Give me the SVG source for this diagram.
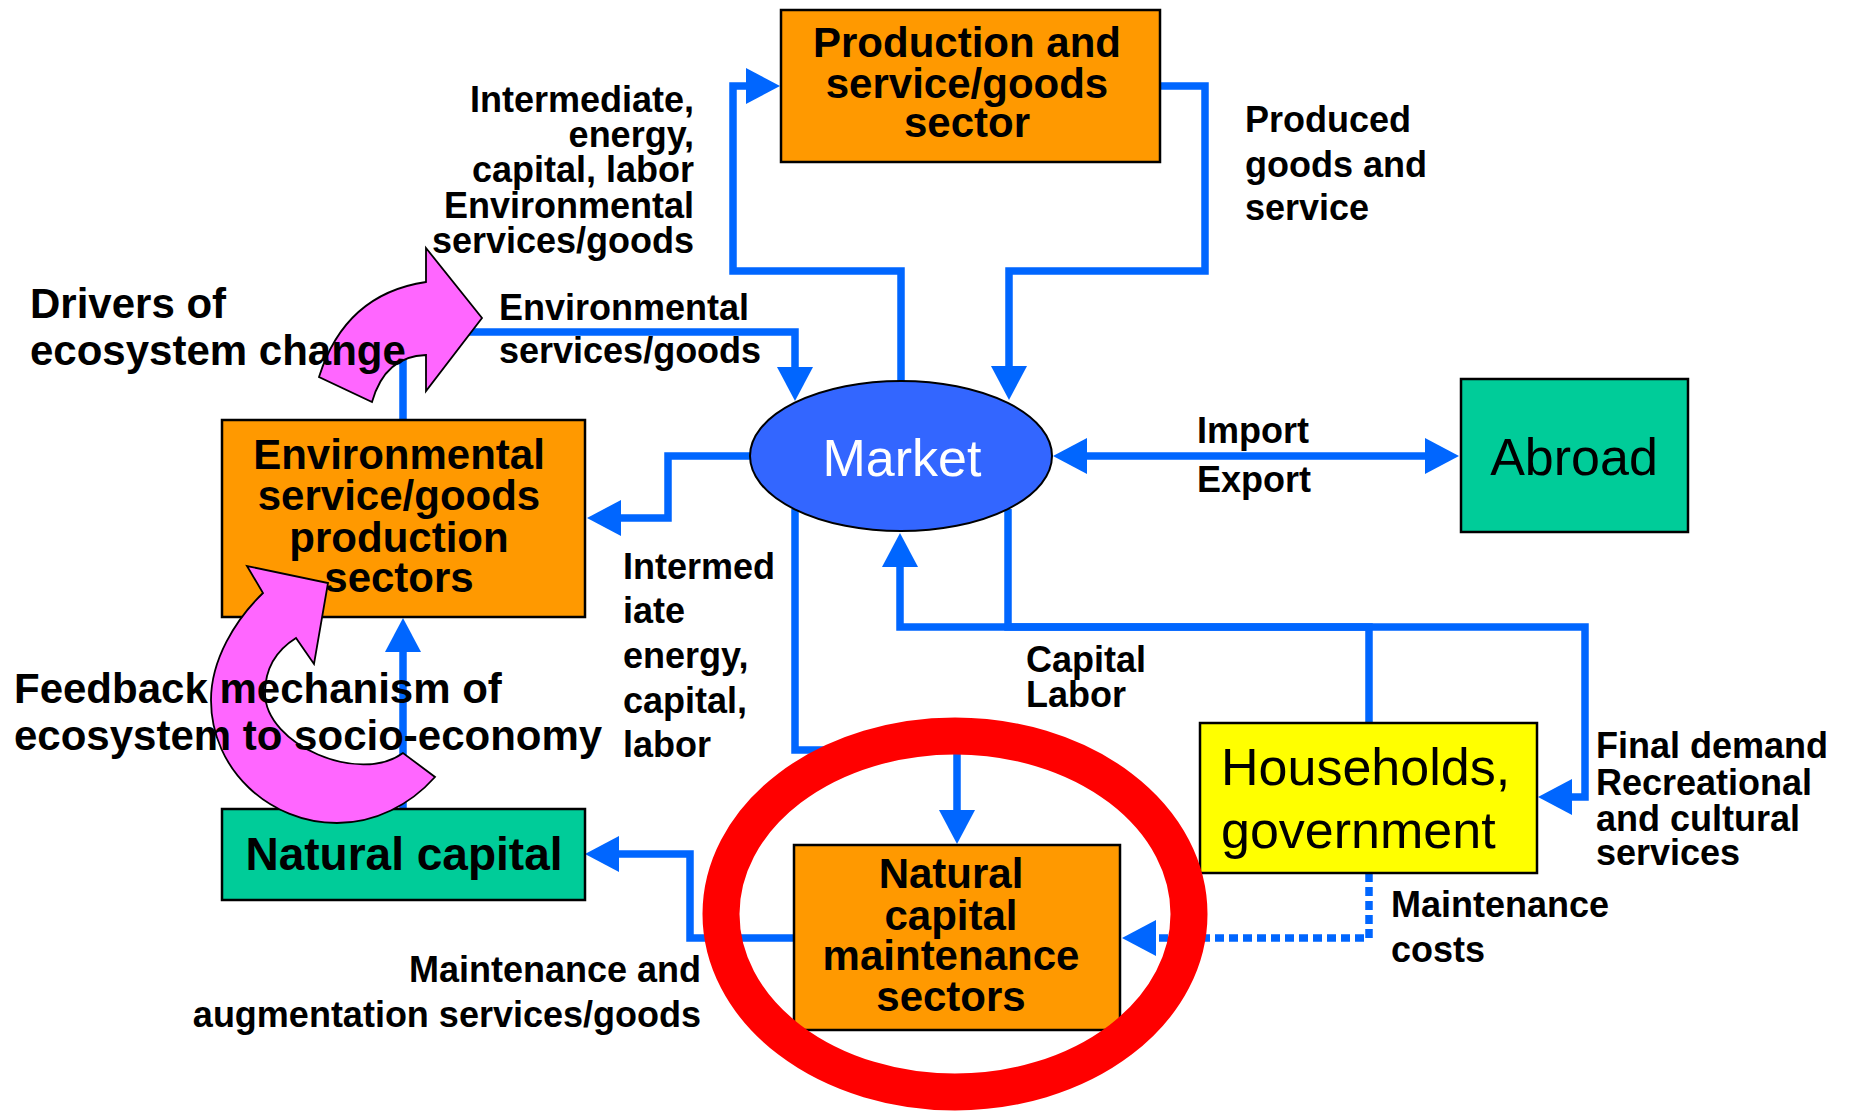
<svg xmlns="http://www.w3.org/2000/svg" width="1850" height="1112" viewBox="0 0 1850 1112">
<defs>
<style>
.t{font-family:"Liberation Sans",Arial,sans-serif;font-weight:bold;font-size:36px;fill:#000}
.tb{font-family:"Liberation Sans",Arial,sans-serif;font-weight:bold;font-size:42px;fill:#000;text-anchor:middle}
.tr{font-family:"Liberation Sans",Arial,sans-serif;font-weight:normal;font-size:52px;fill:#000}
.box{stroke:#000;stroke-width:2.5}
.c{fill:none;stroke:#0066FF;stroke-width:7.5;stroke-linejoin:miter}
.pink{fill:#FF66FF;stroke:#000;stroke-width:1.8;stroke-linejoin:miter}
</style>
<marker id="ah" viewBox="0 0 34 36" refX="0" refY="18" markerWidth="34" markerHeight="36" markerUnits="userSpaceOnUse" orient="auto-start-reverse">
<path d="M0,0 L34,18 L0,36 Z" fill="#0066FF"/>
</marker>
</defs>
<rect width="1850" height="1112" fill="#fff"/>

<g id="connectors">
<path class="c" d="M901,381 V271 H733 V86 H746" marker-end="url(#ah)"/>
<path class="c" d="M1160,86 H1205 V271 H1009 V366" marker-end="url(#ah)"/>
<path class="c" d="M403,420 V332 H795 V367" marker-end="url(#ah)"/>
<path class="c" d="M750,456 H668 V518 H621" marker-end="url(#ah)"/>
<path class="c" d="M1087,456 H1425" marker-start="url(#ah)" marker-end="url(#ah)"/>
<path class="c" d="M795,509 V750 H957 V810" marker-end="url(#ah)"/>
<path class="c" d="M1369,723 V627 H900 V567" marker-end="url(#ah)"/>
<path class="c" d="M1008,509 V627 H1585 V797 H1572" marker-end="url(#ah)"/>
<path class="c" d="M1369,873 V938 H1156" stroke-dasharray="9 5" stroke-width="7.5" marker-end="url(#ah)"/>
<path class="c" d="M794,938 H690 V854 H619" marker-end="url(#ah)"/>
<path class="c" d="M403,808 V652" marker-end="url(#ah)"/>
</g>

<g id="production">
<rect class="box" x="781" y="10" width="379" height="152" fill="#FF9900"/>
<text class="tb" x="967" y="57">Production and</text>
<text class="tb" x="967" y="98">service/goods</text>
<text class="tb" x="967" y="137">sector</text>
</g>

<g id="env-sectors">
<rect class="box" x="222" y="420" width="363" height="197" fill="#FF9900"/>
<text class="tb" x="399" y="469">Environmental</text>
<text class="tb" x="399" y="510">service/goods</text>
<text class="tb" x="399" y="552">production</text>
<text class="tb" x="399" y="592">sectors</text>
</g>

<g id="natural-capital">
<rect class="box" x="222" y="809" width="363" height="91" fill="#00CC99"/>
<text class="tb" x="404" y="870" style="font-size:46px">Natural capital</text>
</g>

<g id="market">
<ellipse cx="901" cy="456" rx="151" ry="75" fill="#3366FF" stroke="#000" stroke-width="2"/>
<text class="tr" x="902" y="476" text-anchor="middle" style="fill:#fff">Market</text>
</g>

<g id="abroad">
<rect class="box" x="1461" y="379" width="227" height="153" fill="#00CC99"/>
<text class="tr" x="1574" y="475" text-anchor="middle">Abroad</text>
</g>

<g id="households">
<rect class="box" x="1200" y="723" width="337" height="150" fill="#FFFF00"/>
<text class="tr" x="1221" y="785">Households,</text>
<text class="tr" x="1221" y="848">government</text>
</g>

<g id="natcap-maintenance">
<rect class="box" x="794" y="845" width="326" height="185" fill="#FF9900"/>
<text class="tb" x="951" y="888">Natural</text>
<text class="tb" x="951" y="930">capital</text>
<text class="tb" x="951" y="970">maintenance</text>
<text class="tb" x="951" y="1011">sectors</text>
</g>

<g id="highlight">
<ellipse cx="955" cy="914" rx="234" ry="178" fill="none" stroke="#FF0000" stroke-width="37"/>
</g>

<g id="drivers-arrow">
<path class="pink" d="M426,248 L482,318 L426,391 L426,355 Q385,356 372,402 L319,377 Q345,294 426,282 Z"/>
</g>

<g id="feedback-arrow">
<path class="pink" d="M263,593 C235,620 211,660 211,700 C211,770 270,823 337,823 C375,823 410,805 435,777 L403,753 C360,785 265,745 265,693 C265,665 280,648 296,638 L314,664 L328,583 L247,566 Z"/>
</g>

<g id="labels">
<text class="t" x="694" y="112" text-anchor="end">Intermediate,</text>
<text class="t" x="694" y="147" text-anchor="end">energy,</text>
<text class="t" x="694" y="182" text-anchor="end">capital, labor</text>
<text class="t" x="694" y="218" text-anchor="end">Environmental</text>
<text class="t" x="694" y="253" text-anchor="end">services/goods</text>

<text class="t" x="1245" y="132">Produced</text>
<text class="t" x="1245" y="177">goods and</text>
<text class="t" x="1245" y="220">service</text>

<text class="t" x="499" y="320">Environmental</text>
<text class="t" x="499" y="363">services/goods</text>

<text class="t" x="1197" y="443">Import</text>
<text class="t" x="1197" y="492">Export</text>

<text class="t" x="623" y="579">Intermed</text>
<text class="t" x="623" y="623">iate</text>
<text class="t" x="623" y="668">energy,</text>
<text class="t" x="623" y="713">capital,</text>
<text class="t" x="623" y="757">labor</text>

<text class="t" x="1026" y="672">Capital</text>
<text class="t" x="1026" y="707">Labor</text>

<text class="t" x="1596" y="758">Final demand</text>
<text class="t" x="1596" y="795">Recreational</text>
<text class="t" x="1596" y="831">and cultural</text>
<text class="t" x="1596" y="865">services</text>

<text class="t" x="1391" y="917">Maintenance</text>
<text class="t" x="1391" y="962">costs</text>

<text class="t" x="701" y="982" text-anchor="end">Maintenance and</text>
<text class="t" x="701" y="1027" text-anchor="end">augmentation services/goods</text>

<text class="t" x="30" y="318" style="font-size:42px">Drivers of</text>
<text class="t" x="30" y="365" style="font-size:42px">ecosystem change</text>

<text class="t" x="14" y="703" style="font-size:42px">Feedback mechanism of</text>
<text class="t" x="14" y="750" style="font-size:42px">ecosystem to socio-economy</text>
</g>
</svg>
